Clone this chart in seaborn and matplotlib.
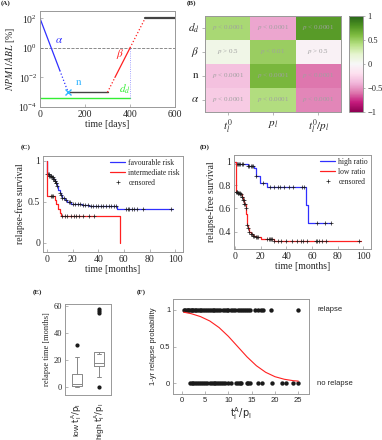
import numpy as np
import pandas as pd
import matplotlib
matplotlib.use("Agg")
import matplotlib.pyplot as plt
from matplotlib.lines import Line2D
import seaborn as sns

# ---- (A) schematic NPM1/ABL course (days, level in %)
alpha_days = [0, 88, 125]
alpha_level = [1e2, 3e-2, 1e-3]
remission_days = [125, 300]
remission_level = [1e-3, 1e-3]
beta_days = [300, 333, 400, 467]
beta_level = [1e-3, 1e-2, 1e0, 1e2]
relapse_days = [467, 600]
relapse_level = [1e2, 1e2]
dd_days = [0, 400]
dd_level = [4e-4, 4e-4]

# ---- (B) correlations + p values
corr_rows = [r'$d_d$', r'$\beta$', r'$\mathrm{n}$', r'$\alpha$']
corr_cols = [r'$t_l^0$', r'$p_l$', r'$t_l^0/p_l$']
corr_vals = [[0.45, -0.45, 0.75],
             [0.08, 0.50, -0.05],
             [-0.35, 0.62, -0.60],
             [-0.30, 0.42, -0.55]]
p_text = [[r'$p$ < 0.0001', r'$p$ < 0.0001', r'$p$ < 0.0001'],
          [r'$p$ > 0.5', r'$p$ < 0.01', r'$p$ > 0.5'],
          [r'$p$ < 0.0001', r'$p$ < 0.0001', r'$p$ < 0.0001'],
          [r'$p$ < 0.0001', r'$p$ < 0.0001', r'$p$ < 0.0001']]

# ---- (C) relapse-free survival by risk group
fav_t = [0, 0.3, 2, 4, 5, 6, 7, 8, 9, 10, 11, 12, 14, 16, 19, 22, 27, 33, 55, 98]
fav_s = [1.0, 0.84, 0.82, 0.80, 0.78, 0.76, 0.73, 0.70, 0.65, 0.61, 0.58, 0.55, 0.52, 0.50, 0.48, 0.47, 0.46, 0.45, 0.41, 0.41]
fav_cens = [0.5, 1, 1.5, 2, 2.5, 3, 3.5, 4, 4.5, 5, 5.5, 6, 6.5, 7, 7.5, 8, 10, 11, 12, 13, 15, 17,
            18, 20, 22, 24, 26, 28, 30, 32, 34, 36, 38, 40, 42, 44, 46, 48, 50, 52, 54,
            62, 63, 64, 66, 68, 70, 75, 97]
int_t = [0, 0.3, 6, 7, 8.5, 10, 11, 57]
int_s = [1.0, 0.57, 0.52, 0.47, 0.42, 0.37, 0.33, 0.0]
int_cens = [3, 4, 5, 12, 14, 16, 19, 21, 23, 25, 28, 33, 37]

# ---- (D) relapse-free survival by ratio
high_t = [0, 0.3, 10, 15, 16, 19, 25, 55, 57, 75]
high_s = [1.0, 0.985, 0.965, 0.95, 0.88, 0.82, 0.785, 0.625, 0.47, 0.47]
high_cens = [1, 2, 3, 4, 5, 6, 10, 11, 12, 13, 14, 16, 22, 27, 30, 33, 35, 38, 42, 45, 52, 54, 64, 70, 75]
low_t = [0, 0.3, 2, 4, 5, 6, 7, 8, 8.5, 9, 9.5, 10, 11, 12, 14, 16, 20, 25, 30, 98]
low_s = [1.0, 0.745, 0.735, 0.72, 0.70, 0.67, 0.64, 0.60, 0.55, 0.50, 0.46, 0.43, 0.40, 0.38, 0.36, 0.35, 0.34, 0.335, 0.315, 0.315]
low_cens = [0.5, 1, 1.5, 2, 2.5, 3, 3.5, 4, 4.5, 5, 5.5, 6, 6.5, 7, 7.5, 8, 9.5, 10, 11, 12, 13, 14,
            15, 16, 17, 18, 25, 26, 27, 28, 29, 30, 33, 36, 40, 44, 48, 51, 53, 56, 63, 64, 65, 68, 71, 97]

# ---- (E) relapse time boxes
box_names = [r'low $\mathsf{t_l^A/p_l}$', r'high $\mathsf{t_l^A/p_l}$']
box_med = [2.2, 17.8]
box_q1 = [0.5, 15.5]
box_q3 = [9.3, 25.8]
box_lo = [0.0, 7.0]
box_hi = [22.5, 24.5]
box_fliers = [[31], [0, 55, 56, 57.5]]

# ---- (F) 1-yr relapse vs ratio
relapse_x = [0.4, 0.7, 1.0, 1.3, 1.6, 1.9, 2.2, 2.5, 2.8, 3.1, 3.5, 3.8, 4.2, 4.6, 5.0, 5.4, 5.8,
             6.2, 6.6, 7.0, 7.4, 7.8, 8.1, 8.8, 9.2, 9.6, 10.0, 10.5, 11.0, 11.5, 12.0, 12.5,
             13.0, 13.4, 13.8, 14.2, 14.6, 15.7, 16.4, 16.9, 17.5, 19.2, 25.0]
norelapse_x = [1.7, 2.1, 2.5, 2.9, 3.3, 3.7, 4.1, 4.6, 5.0, 5.5, 6.0, 6.4, 6.8, 7.2, 7.6, 8.0,
               8.4, 8.8, 9.2, 9.9, 10.6, 11.7, 12.1, 12.5, 12.8, 13.9, 14.3, 14.6, 16.4, 17.2,
               19.3, 21.4, 22.3, 23.8, 25.0]
fit_x = [0.4, 2, 4, 6, 8, 10, 11, 12, 13, 14, 16, 18, 20, 22, 24, 25]
fit_p = [0.97, 0.95, 0.91, 0.85, 0.76, 0.64, 0.57, 0.50, 0.43, 0.36, 0.24, 0.15, 0.09, 0.055, 0.035, 0.03]

sns.set_theme(style="white")
plt.rcParams['font.family'] = ['Liberation Serif', 'DejaVu Serif']
plt.rcParams['mathtext.fontset'] = 'stix'
plt.rcParams['axes.unicode_minus'] = True

W, H = 382, 440
fig = plt.figure(figsize=(W / 100, H / 100), dpi=100)
GREY = '#999999'
SANS = 'Liberation Sans'


def box(l, t, r, b):
    return fig.add_axes([l / W, 1 - b / H, (r - l) / W, (b - t) / H])


def frame(ax, fs=7, family=None):
    for s in ax.spines.values():
        s.set_visible(True)
        s.set_color(GREY)
        s.set_linewidth(0.7)
    ax.tick_params(labelsize=fs, length=2, width=0.5, color=GREY, direction='in', pad=2,
                   bottom=True, left=True)
    if family:
        for lab in ax.get_xticklabels() + ax.get_yticklabels():
            lab.set_family(family)


# (A)
axA = box(40, 11, 175, 107)
axA.set_yscale('log')
blue, red, green, cyan = '#3030ff', '#ff2020', '#33ee33', '#33b5ff'
axA.axhline(1, color='#777777', lw=0.6, ls='--')
axA.plot(alpha_days[:2], alpha_level[:2], color=blue, lw=0.9)
axA.plot(alpha_days[1:], alpha_level[1:], color=blue, lw=0.9, ls=':')
axA.plot(remission_days, remission_level, color='#444444', lw=1.0)
axA.plot(beta_days[:2], beta_level[:2], color=red, lw=0.9, ls=':')
axA.plot(beta_days[1:3], beta_level[1:3], color=red, lw=0.9)
axA.plot(beta_days[2:], beta_level[2:], color=red, lw=0.9, ls=':')
axA.plot(relapse_days, relapse_level, color='#444444', lw=1.6)
axA.plot(dd_days, dd_level, color=green, lw=1.0)
axA.plot([dd_days[1], dd_days[1]], [dd_level[1], beta_level[2]], color='#8888ff', lw=0.6, ls=':')
axA.plot(alpha_days[2], alpha_level[2], marker='x', color=cyan, ms=5, mew=1.0)
axA.text(65, 10 ** 0.3, r'$\alpha$', color=blue, fontsize=8)
axA.text(155, 10 ** -2.5, r'$\mathrm{n}$', color=cyan, fontsize=8)
axA.text(340, 10 ** -0.6, r'$\beta$', color=red, fontsize=8)
axA.text(350, 10 ** -3.05, r'$d_d$', color=green, fontsize=8)
axA.set_xlim(0, 600)
axA.set_ylim(1e-4, 10 ** 2.5)
axA.set_xticks([0, 200, 400, 600])
axA.set_yticks([1e-4, 1e-2, 1e0, 1e2])
axA.minorticks_off()
axA.set_xlabel('time [days]', fontsize=7, labelpad=1)
axA.set_ylabel(r'$NPM1/ABL$ [%]', fontsize=7, labelpad=1)
frame(axA)

# (B)
axB = box(205, 16, 341, 112)
caxB = box(349, 16, 363, 112)
df = pd.DataFrame(corr_vals, index=corr_rows, columns=corr_cols)
sns.heatmap(df, ax=axB, cbar_ax=caxB, cmap='PiYG', vmin=-1, vmax=1,
            annot=np.array(p_text), fmt='', annot_kws={'size': 5, 'color': '#a0a0a0'},
            cbar_kws={'ticks': [-1, -0.5, 0, 0.5, 1]})
axB.set_yticklabels(corr_rows, rotation=0, fontsize=8)
axB.set_xticklabels(corr_cols, rotation=0, fontsize=8)
axB.tick_params(length=2, width=0.5, color=GREY, pad=2, left=True, bottom=True)
for s in axB.spines.values():
    s.set_visible(True)
    s.set_color(GREY)
    s.set_linewidth(0.7)
cbar = axB.collections[0].colorbar
cbar.set_ticklabels(['\u22121', '\u22120.5', '0', '0.5', '1'])
cbar.outline.set_edgecolor(GREY)
cbar.outline.set_linewidth(0.7)
caxB.tick_params(labelsize=6, length=1.5, width=0.5, color=GREY, pad=1.5)


def km(ax, t, s, cens, color):
    sns.lineplot(x=t, y=s, ax=ax, color=color, lw=0.9, drawstyle='steps-post',
                 estimator=None, sort=False)
    idx = np.searchsorted(t, cens, side='right') - 1
    ax.plot(cens, np.array(s)[idx], ls='none', marker='+', color='k', ms=3, mew=0.5)


def km_legend(ax, labels):
    handles = [Line2D([], [], color=blue, lw=0.9), Line2D([], [], color=red, lw=0.9),
               Line2D([], [], ls='none', marker='+', color='k', ms=3, mew=0.5)]
    ax.legend(handles, labels, loc='upper right', frameon=False, fontsize=5.5,
              handlelength=2.0, borderaxespad=0.1, borderpad=0.3, labelspacing=0.25,
              handletextpad=0.4)


# (C)
axC = box(43, 156, 183, 252)
km(axC, fav_t, fav_s, fav_cens, blue)
km(axC, int_t, int_s, int_cens, red)
axC.set_xlim(-3, 106)
axC.set_ylim(-0.11, 1.06)
axC.set_xticks([0, 20, 40, 60, 80, 100])
axC.set_yticks([0, 0.5, 1])
axC.set_yticklabels(['0', '0.5', '1'])
axC.set_xlabel('time [months]', fontsize=7, labelpad=1)
axC.set_ylabel('relapse-free survival', fontsize=7, labelpad=2)
km_legend(axC, ['favourable risk', 'intermediate risk', 'censored'])
frame(axC)

# (D)
axD = box(234, 155, 371, 249)
km(axD, high_t, high_s, high_cens, blue)
km(axD, low_t, low_s, low_cens, red)
axD.set_xlim(-1, 106)
axD.set_ylim(0.25, 1.06)
axD.set_xticks([0, 20, 40, 60, 80, 100])
axD.set_yticks([0.4, 0.6, 0.8, 1])
axD.set_yticklabels(['0.4', '0.6', '0.8', '1'])
axD.set_xlabel('time [months]', fontsize=7, labelpad=1)
axD.set_ylabel('relapse-free survival', fontsize=7, labelpad=2)
km_legend(axD, ['high ratio', 'low ratio', 'censored'])
frame(axD)

# (E)
axE = box(65, 304, 111, 395)
stats = [dict(label=n, med=m, q1=a, q3=b, whislo=lo, whishi=hi, fliers=f)
         for n, m, a, b, lo, hi, f in zip(box_names, box_med, box_q1, box_q3, box_lo, box_hi, box_fliers)]
axE.bxp(stats, positions=[0, 1], widths=0.42,
        boxprops=dict(color='#888888', lw=0.7), medianprops=dict(color='#888888', lw=0.7),
        whiskerprops=dict(color='#888888', lw=0.7), capprops=dict(color='#888888', lw=0.7),
        flierprops=dict(marker='o', markerfacecolor='k', markeredgecolor='k', ms=2))
axE.set_xlim(-0.54, 1.54)
axE.set_ylim(-6, 61.5)
axE.set_yticks([0, 20, 40, 60])
axE.set_xticks([0, 1])
axE.set_xticklabels(box_names, rotation=90, fontsize=5.5, fontfamily=SANS,
                    math_fontfamily='dejavusans')
axE.set_ylabel('relapse time [months]', fontsize=6, labelpad=2)
frame(axE, fs=6)
axE.tick_params(axis='x', length=0, pad=6)

# (F)
axF = box(173, 299, 309, 394)
pts = pd.DataFrame({'ratio': relapse_x + norelapse_x,
                    'relapse': [1] * len(relapse_x) + [0] * len(norelapse_x)})
sns.scatterplot(data=pts, x='ratio', y='relapse', ax=axF, color='k', s=10, linewidth=0)
sns.lineplot(x=fit_x, y=fit_p, ax=axF, color=red, lw=0.8)
axF.set_xlim(-1.9, 27.3)
axF.set_ylim(-0.146, 1.15)
axF.set_xticks([0, 5, 10, 15, 20, 25], labels=['0', '5', '10', '15', '20', '25'], fontfamily=SANS)
axF.set_yticks([0, 0.5, 1], labels=['0', '0.5', '1'], fontfamily=SANS)
axF.set_xlabel(r'$\mathsf{t_l^A/p_l}$', fontsize=7, labelpad=1, math_fontfamily='dejavusans')
axF.set_ylabel('1-yr relapse probability', fontsize=5.5, fontfamily=SANS, labelpad=2)
axF.text(1.06, 1, 'relapse', transform=axF.get_yaxis_transform(), va='center',
         fontsize=5.5, fontfamily=SANS)
axF.text(1.06, 0, 'no relapse', transform=axF.get_yaxis_transform(), va='center',
         fontsize=5.5, fontfamily=SANS)
frame(axF, fs=5.5, family=SANS)

# panel letters
for lab, x, y in [('(A)', 1, 3), ('(B)', 187, 3), ('(C)', 21, 147), ('(D)', 200, 147),
                  ('(E)', 33, 292), ('(F)', 137, 292)]:
    fig.text(x / W, 1 - y / H, lab, fontsize=5, fontweight='bold', va='center', ha='left')

fig.savefig('out.png', dpi=100)
